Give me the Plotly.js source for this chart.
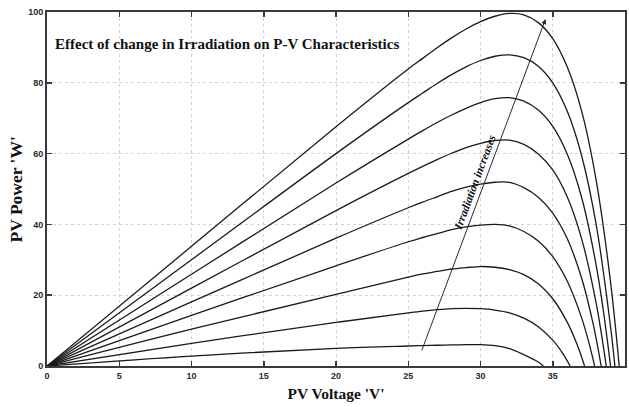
<!DOCTYPE html>
<html>
<head>
<meta charset="utf-8">
<script src="https://cdn.plot.ly/plotly-3.0.1.min.js"></script>
<style>html,body{margin:0;padding:0;background:#fff;}#chart{width:629px;height:407px;}</style>
</head>
<body>
<div id="chart"></div>
<script>
// PV voltage (V) and PV power (W) for each irradiation level (lowest to highest)
const V1 = [0, 10, 20, 25, 26, 27, 28, 29, 30, 31, 32, 33, 34, 34.35];
const P1 = [0, 2.8, 5.0, 5.65, 5.76, 5.86, 5.95, 6.01, 6.03, 5.75, 4.9, 3.2, 1.15, 0];
const V2 = [0, 10, 20, 25, 26, 27, 28, 29, 30, 31, 32, 33, 34, 35, 35.7, 36.2];
const P2 = [0, 6.4, 12.3, 15.0, 15.5, 15.9, 16.2, 16.3, 16.2, 15.8, 15.0, 13.5, 11.1, 7.3, 3.5, 0];
const V3 = [0, 10, 20, 25, 26, 27, 28, 29, 30, 31, 32, 33, 34, 35, 36, 36.7, 37.2];
const P3 = [0, 10.4, 20.2, 25.1, 26.0, 26.7, 27.4, 27.8, 28.1, 27.9, 27.2, 25.8, 23.2, 19.0, 12.4, 5.9, 0];
const V4 = [0, 10, 20, 25, 26, 27, 28, 29, 30, 31, 32, 33, 34, 35, 36, 37, 37.5, 37.9];
const P4 = [0, 14.3, 28.3, 35.1, 36.3, 37.4, 38.5, 39.3, 39.8, 40.0, 39.6, 38.0, 35.3, 30.9, 24.0, 13.6, 6.6, 0];
const V5 = [0, 10, 20, 25, 26, 27, 28, 29, 30, 31, 32, 33, 34, 35, 36, 37, 37.8, 38.35];
const P5 = [0, 18.1, 36.1, 44.7, 46.3, 47.8, 49.3, 50.5, 51.4, 51.9, 51.9, 50.4, 47.7, 43.2, 36.0, 24.8, 11.8, 0];
const V6 = [0, 10, 20, 25, 26, 27, 28, 29, 30, 31, 32, 33, 34, 35, 36, 37, 38, 38.7];
const P6 = [0, 22.0, 43.9, 54.4, 56.4, 58.3, 60.1, 61.7, 62.9, 63.7, 63.8, 62.6, 59.9, 55.4, 47.8, 35.9, 17.8, 0];
const V7 = [0, 10, 20, 25, 26, 27, 28, 29, 30, 31, 32, 33, 34, 35, 36, 37, 38, 38.5, 39.0];
const P7 = [0, 25.9, 51.7, 64.1, 66.5, 68.8, 70.9, 72.8, 74.4, 75.5, 75.8, 74.8, 72.3, 67.7, 59.9, 47.6, 28.6, 15.7, 0];
const V8 = [0, 10, 20, 25, 26, 27, 28, 29, 30, 31, 32, 33, 34, 35, 36, 37, 38, 39, 39.3];
const P8 = [0, 30.0, 60.0, 74.4, 77.1, 79.8, 82.3, 84.5, 86.3, 87.5, 87.9, 87.1, 84.7, 80.0, 72.0, 59.4, 40.1, 11.1, 0];
const V9 = [0, 10, 20, 25, 26, 27, 28, 29, 30, 31, 32, 33, 34, 35, 36, 37, 38, 39, 39.6];
const P9 = [0, 33.8, 67.6, 83.9, 86.9, 89.9, 92.7, 95.2, 97.3, 98.8, 99.6, 99.2, 97.0, 92.5, 84.5, 72.0, 52.6, 23.7, 0];

const xTicks = [0, 5, 10, 15, 20, 25, 30, 35, 40];
const yTicks = [0, 20, 40, 60, 80, 100];

// Arrow "Irradiation increases": tail and head in data units
const arrowTail = [25.9, 4.0];
const arrowHead = [34.5, 98.0];
const arrowLabel = "Irradiation increases";
const arrowLabelPos = [29.6, 52.0];
const chartTitle = "Effect of change in Irradiation on P-V Characteristics";
const xTitle = "PV Voltage 'V'";
const yTitle = "PV Power 'W'";

const volts = [V1, V2, V3, V4, V5, V6, V7, V8, V9];
const powers = [P1, P2, P3, P4, P5, P6, P7, P8, P9];

const traces = volts.map((v, i) => ({
  x: v, y: powers[i], type: 'scatter', mode: 'lines',
  line: {color: '#1a1a1a', width: 1.3, shape: 'spline', smoothing: 1},
  hoverinfo: 'skip', showlegend: false
}));

const serif = 'Liberation Serif, Times New Roman, serif';
const sans = 'Liberation Sans, Arial, sans-serif';

const axisCommon = {
  showline: true, linecolor: '#3a3a3a', linewidth: 2, mirror: 'ticks',
  ticks: 'inside', ticklen: 5, tickwidth: 1.5, tickcolor: '#3a3a3a',
  showgrid: true, gridcolor: '#d2d2d2', griddash: 'dot', gridwidth: 1,
  zeroline: false, tickfont: {family: sans, size: 9, color: '#2a2a2a', weight: 'bold'}
};

const layout = {
  width: 629, height: 407,
  margin: {l: 47, r: 4, t: 12, b: 41},
  paper_bgcolor: '#ffffff', plot_bgcolor: '#ffffff',
  xaxis: Object.assign({}, axisCommon, {
    range: [0, 40], tickvals: xTicks, ticktext: xTicks.map(String),
    title: {text: xTitle, font: {family: serif, size: 15.5, color: '#111', weight: 'bold'}, standoff: 8}
  }),
  yaxis: Object.assign({}, axisCommon, {
    range: [0, 100], tickvals: yTicks, ticktext: yTicks.map(String)
  }),
  annotations: [
    {xref: 'paper', yref: 'paper', x: -0.0528, y: 0.5, xanchor: 'center', yanchor: 'middle',
     text: '<b>' + yTitle + '</b>', showarrow: false, textangle: -90,
     font: {family: serif, size: 17.5, color: '#111'}},
    {xref: 'paper', yref: 'paper', x: 0.0104, y: 0.911, xanchor: 'left', yanchor: 'middle',
     text: '<b>' + chartTitle + '</b>', showarrow: false,
     font: {family: serif, size: 15, color: '#111'}},
    {xref: 'x', yref: 'y', axref: 'x', ayref: 'y',
     x: arrowHead[0], y: arrowHead[1], ax: arrowTail[0], ay: arrowTail[1],
     text: '', showarrow: true, arrowhead: 2, arrowsize: 1, arrowwidth: 1, arrowcolor: '#2a2a2a'},
    {xref: 'x', yref: 'y', x: arrowLabelPos[0], y: arrowLabelPos[1], xanchor: 'center', yanchor: 'middle',
     text: '<b><i>' + arrowLabel + '</i></b>', showarrow: false, textangle: -69.6,
     font: {family: serif, size: 11.5, color: '#111'}}
  ]
};

Plotly.newPlot('chart', traces, layout, {displayModeBar: false, staticPlot: true});
</script>
</body>
</html>
